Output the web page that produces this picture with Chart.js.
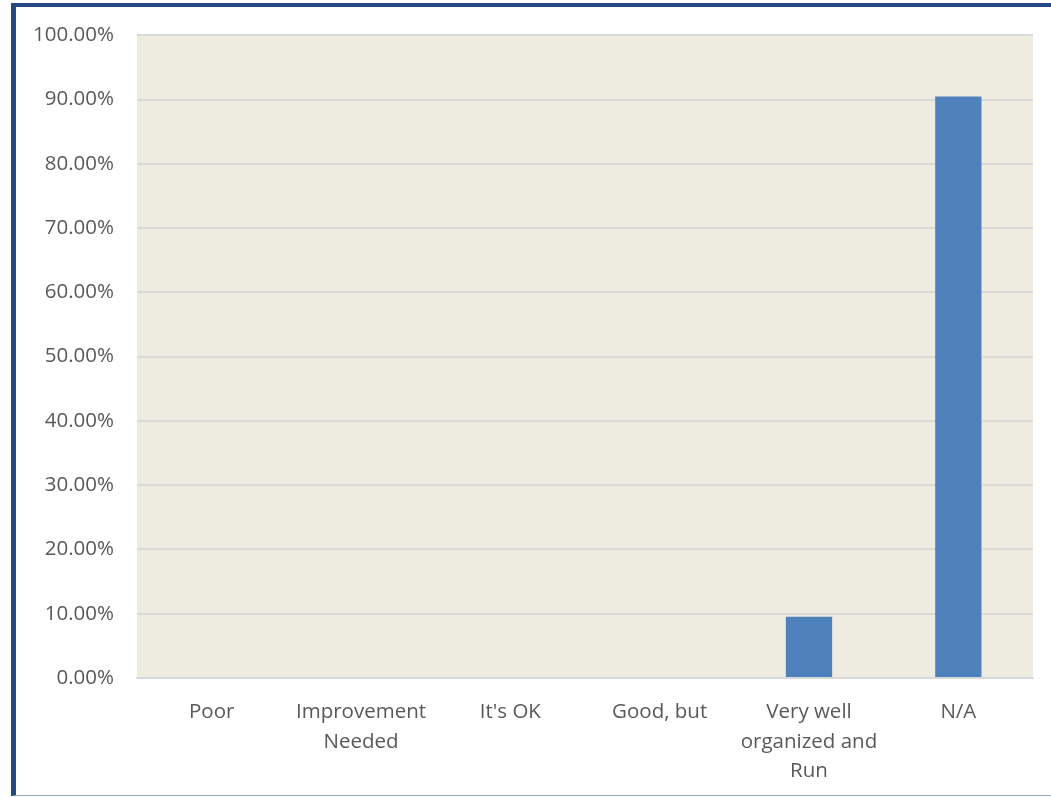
<!DOCTYPE html>
<html>
<head>
<meta charset="utf-8">
<script src="https://cdn.jsdelivr.net/npm/chart.js@4/dist/chart.umd.min.js"></script>
<style>
  html, body { margin:0; padding:0; background:#fff; }
  #wrap { position:relative; width:1051px; height:797px; overflow:hidden; }
  #frame { position:absolute; left:11px; top:3px; width:1100px; height:793px;
           border-left:5px solid #254A83; border-top:4px solid #254A83; border-bottom:1px solid #93A9C6;
           box-sizing:border-box; pointer-events:none; }
  canvas { position:absolute; left:0; top:0; }
</style>
</head>
<body>
<div id="wrap">
  <canvas id="c" width="1051" height="797"></canvas>
  <div id="frame"></div>
</div>
<script>
// categories and values (percent of responses)
const categories = ['Poor', ['Improvement','Needed'], "It's OK", 'Good, but', ['Very well','organized and','Run'], 'N/A'];
const values = [0, 0, 0, 0, 9.52, 90.48];
const yMin = 0, yMax = 100, yStep = 10;

const colors = { bar:'#4F81BD', plot:'#EEECE1', grid:'#D9D9D9', text:'#595959' };

// fill the plot area beige before anything else is drawn
const plotBg = {
  id:'plotBg',
  beforeDraw(chart){
    const {ctx, chartArea:a} = chart;
    ctx.save();
    ctx.fillStyle = colors.plot;
    ctx.fillRect(a.left, a.top, a.right-a.left, a.bottom-a.top);
    ctx.restore();
  }
};

new Chart(document.getElementById('c'), {
  type:'bar',
  data:{ labels:categories, datasets:[{ data:values, backgroundColor:colors.bar, barPercentage:0.31, categoryPercentage:1 }] },
  options:{
    responsive:false,
    animation:false,
    layout:{ padding:{ top:34, right:18, left:0, bottom:0 } },
    plugins:{ legend:{display:false}, tooltip:{enabled:false} },
    scales:{
      x:{
        grid:{ display:false },
        border:{ display:true, color:colors.grid, width:2 },
        ticks:{ color:colors.text, font:{family:'"Open Sans", sans-serif', size:20.5, lineHeight:1.42}, padding:12, maxRotation:0, autoSkip:false },
        afterFit(s){ s.height = 119; }
      },
      y:{
        min:yMin, max:yMax,
        grid:{ color:colors.grid, lineWidth:2, drawTicks:false },
        border:{ display:false },
        ticks:{ stepSize:yStep, color:colors.text, font:{family:'"Open Sans", sans-serif', size:20.5}, padding:23,
                callback:v => v.toFixed(2)+'%' },
        afterFit(s){ s.width = 137; }
      }
    }
  },
  plugins:[plotBg]
});
</script>
</body>
</html>
